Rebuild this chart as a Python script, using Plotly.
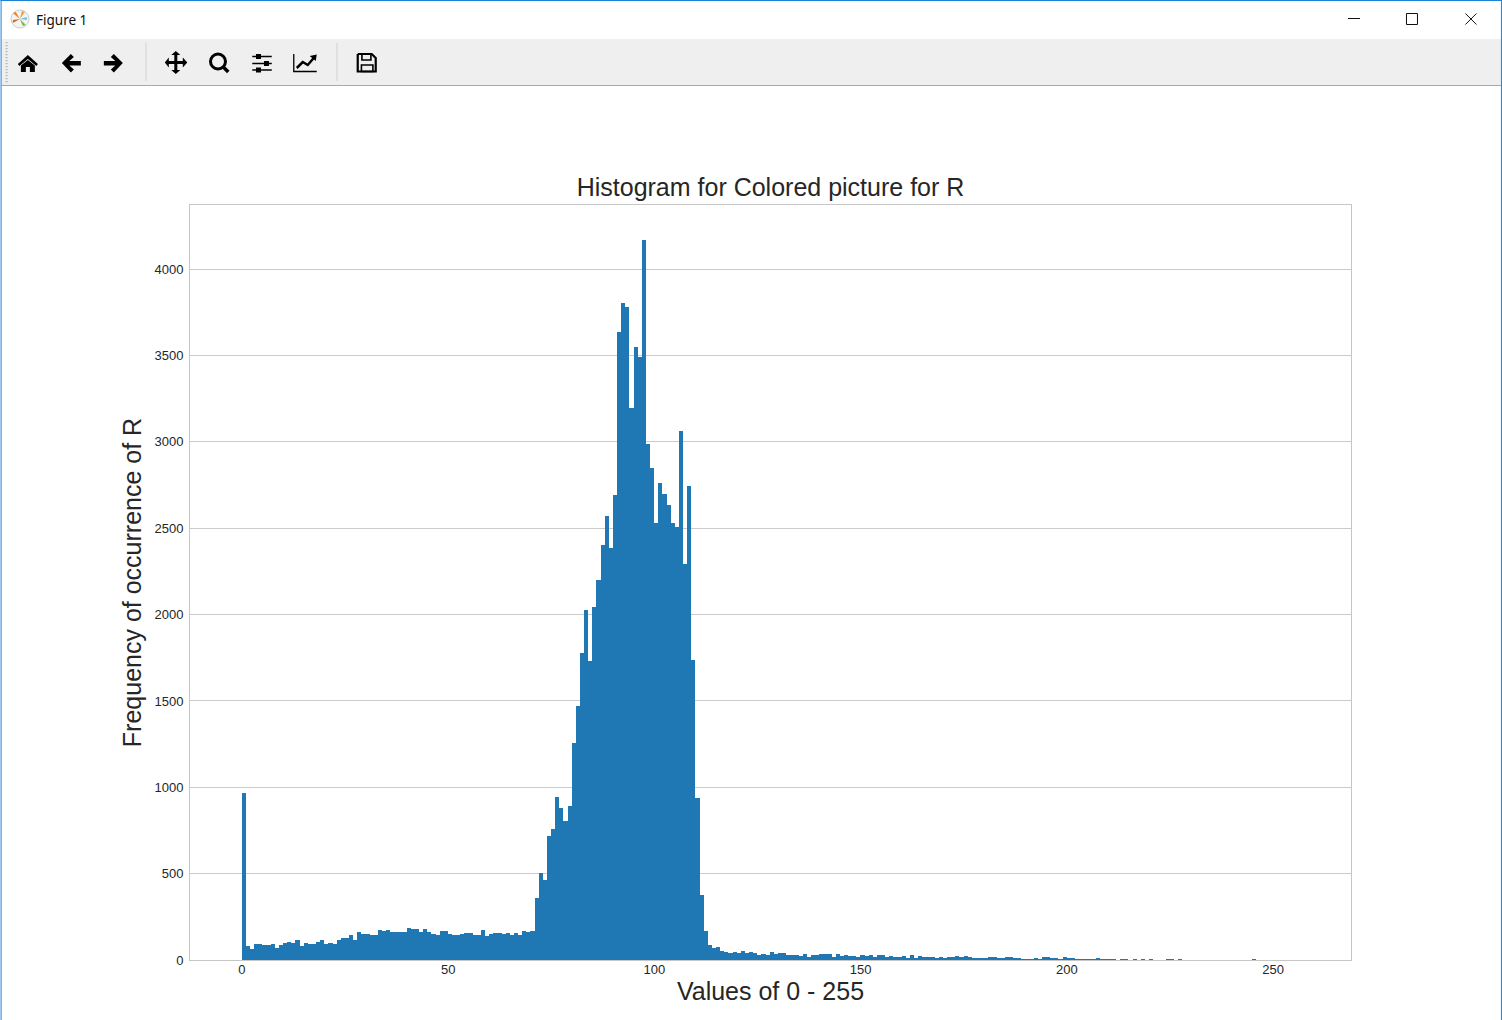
import plotly.graph_objects as go

intensity_levels = list(range(256))
counts = [
    965, 81, 64, 93, 93, 87, 87, 93, 69, 87, 98, 104, 98, 116, 81, 98, 93, 93, 104, 116,
    93, 98, 93, 116, 127, 127, 145, 116, 162, 150, 150, 145, 145, 174, 168, 174, 162, 162, 162, 162,
    185, 180, 180, 162, 180, 162, 150, 145, 168, 168, 150, 145, 145, 150, 156, 156, 145, 145, 174, 139,
    150, 156, 156, 150, 156, 145, 156, 145, 168, 162, 168, 359, 504, 463, 718, 758, 944, 880, 805, 891,
    1256, 1470, 1777, 2026, 1731, 2043, 2200, 2402, 2570, 2385, 2692, 3635, 3803, 3780, 3195, 3548, 3491, 4168, 2987, 2848,
    2530, 2761, 2698, 2634, 2530, 2507, 3062, 2292, 2744, 1737, 938, 376, 168, 87, 69, 75, 52, 46, 40, 46,
    40, 52, 40, 46, 40, 29, 35, 29, 46, 35, 40, 40, 29, 29, 29, 23, 35, 17, 29, 29,
    35, 35, 35, 17, 35, 23, 29, 23, 23, 17, 29, 23, 29, 17, 29, 29, 17, 23, 17, 17,
    23, 12, 29, 12, 23, 17, 17, 17, 12, 17, 12, 17, 17, 23, 17, 23, 17, 12, 12, 12,
    12, 17, 17, 12, 10, 15, 15, 10, 10, 3, 2, 2, 10, 3, 15, 15, 8, 10, 3, 15,
    10, 10, 3, 3, 2, 2, 3, 10, 3, 2, 2, 3, 0, 3, 3, 0, 3, 0, 3, 0,
    3, 0, 0, 0, 3, 3, 0, 3, 0, 0, 0, 0, 0, 0, 0, 0, 0, 0, 0, 0,
    0, 0, 0, 0, 0, 3, 0, 0, 0, 0, 0, 0, 0, 0, 0, 0,
]
counts = (counts + [0] * 256)[:256]
x_ticks = [0, 50, 100, 150, 200, 250]
y_ticks = [0, 500, 1000, 1500, 2000, 2500, 3000, 3500, 4000]
chart_title = "Histogram for Colored picture for R"
x_title = "Values of 0 - 255"
y_title = "Frequency of occurrence of R"
window_title = "Figure 1"

W, H = 1502, 1020
L, R, T, B = 189.5, 1351.0, 205.0, 960.0
DX = -0.7  # toolbar icon nudge

def X(px):
    return (px - L) / (R - L)

def Y(py):
    return (B - py) / (B - T)

def poly(points, fill="#000000"):
    d = "M " + " L ".join(f"{X(a + DX):.5f},{Y(b):.5f}" for a, b in points) + " Z"
    return dict(type="path", xref="paper", yref="paper", path=d, fillcolor=fill, line=dict(width=0), layer="above")

def pline(points, color="#000000", width=1.0, dx=DX):
    d = "M " + " L ".join(f"{X(a + dx):.5f},{Y(b):.5f}" for a, b in points)
    return dict(type="path", xref="paper", yref="paper", path=d, line=dict(color=color, width=width), layer="above")

def rect(x0, y0, x1, y1, fill=None, color=None, width=0):
    return dict(type="rect", xref="paper", yref="paper", x0=X(x0), x1=X(x1), y0=Y(y0), y1=Y(y1),
                fillcolor=fill if fill else "rgba(0,0,0,0)",
                line=dict(color=color if color else "rgba(0,0,0,0)", width=width), layer="above")

def circ(cx, cy, r, fill=None, color=None, width=0):
    return dict(type="circle", xref="paper", yref="paper", x0=X(cx - r), x1=X(cx + r), y0=Y(cy - r), y1=Y(cy + r),
                fillcolor=fill if fill else "rgba(0,0,0,0)",
                line=dict(color=color if color else "rgba(0,0,0,0)", width=width), layer="above")

shapes = [
    rect(1, 39, 1501, 85, fill="#efefef"),
    rect(1, 85, 1501, 86, fill="#a9a9a9"),
    rect(0, 0, W, 1, fill="#1883d7"),
    rect(0, 0, 1, H, fill="#1883d7"),
    rect(W - 1, 0, W, H, fill="#1883d7"),
    rect(145, 43, 146, 81, fill="#d2d2d2"),
    rect(336, 43, 337, 81, fill="#d2d2d2"),
    # window buttons
    rect(1348, 18, 1360, 19, fill="#111111"),
    rect(1406.5, 13.5, 1417.5, 24.5, color="#111111", width=1),
    pline([(1465.5, 13.5), (1476.5, 24.5)], "#111111", 1, dx=0),
    pline([(1476.5, 13.5), (1465.5, 24.5)], "#111111", 1, dx=0),
    # window icon
    circ(19.5, 19, 9, fill="#f4f4f4", color="#cccccc", width=1),
    poly([(20, 19), (13, 13), (16, 12)], "#f08020"),
    poly([(20, 19), (22, 11), (25, 12)], "#f0a040"),
    poly([(20, 19), (13, 20), (13, 23)], "#e86020"),
    poly([(20, 19), (26, 25), (23, 26)], "#80b840"),
    poly([(20, 19), (27, 17), (27, 20)], "#70c0e0"),
    # home
    poly([(18, 64), (28, 55), (38, 64), (36.5, 66), (28, 59), (19.5, 66)]),
    poly([(21, 65.5), (28, 60), (35, 65.5), (35, 72), (30, 72), (30, 67), (26, 67), (26, 72), (21, 72)]),
    # back / forward
    poly([(62, 63), (71, 54), (74, 57), (69.5, 61), (81, 61), (81, 65.5), (69.5, 65.5), (74, 69.5), (71, 72.5)]),
    poly([(123, 63), (114, 54), (111, 57), (115.5, 61), (104, 61), (104, 65.5), (115.5, 65.5), (111, 69.5), (114, 72.5)]),
    # move
    poly([(174.5, 55), (174.5, 61), (169, 61), (169, 57.5), (165, 62.5), (169, 67.5), (169, 64), (174.5, 64),
          (174.5, 70), (171.5, 70), (176, 74), (180.5, 70), (177.5, 70), (177.5, 64), (183, 64), (183, 67.5),
          (187.5, 62.5), (183, 57.5), (183, 61), (177.5, 61), (177.5, 55), (180.5, 55), (176, 51), (171.5, 55)]),
    # zoom
    circ(217.5, 61.5, 7.5, color="#000000", width=3),
    pline([(223.5, 67), (228.5, 72)], "#000000", 3.5),
    # sliders
    pline([(252.5, 56.5), (272, 56.5)], "#000000", 1.5),
    pline([(252.5, 63.5), (272, 63.5)], "#000000", 1.5),
    pline([(252.5, 70), (272, 70)], "#000000", 1.5),
    rect(255.5, 54, 260.5, 59, fill="#000000"),
    rect(263.5, 61, 268.5, 66, fill="#000000"),
    rect(255.5, 67.5, 260.5, 72.5, fill="#000000"),
    # chart
    pline([(294, 54), (294, 71.5), (317, 71.5)], "#000000", 1.3),
    pline([(297, 68), (303, 62), (308, 65), (314, 58)], "#000000", 2.5),
    poly([(310, 56), (317, 54.5), (316, 61)]),
    # save
    pline([(358, 54), (372, 54), (376, 58), (376, 71.5), (358, 71.5), (358, 54)], "#000000", 2.2),
    rect(361.5, 54, 370.5, 60, color="#000000", width=1.6),
    rect(361, 65, 372.5, 71.5, color="#000000", width=1.6),
]
for gy in range(42, 82, 3):
    shapes.append(rect(5, gy, 7, gy + 1.2, fill="#b5b5b5"))

fig = go.Figure(go.Bar(
    x=intensity_levels, y=counts, offset=-0.05, width=1.0,
    marker=dict(color="#1f77b4", line=dict(width=0)), hoverinfo="skip",
))

fig.update_layout(
    width=W, height=H, autosize=False,
    paper_bgcolor="white", plot_bgcolor="white",
    margin=dict(l=L, r=W - R, t=T, b=H - B, pad=0),
    showlegend=False,
    bargap=0,
    font=dict(family="Liberation Sans, Arial, sans-serif", color="#262626"),
    title=dict(text=chart_title, font=dict(size=25, color="#262626", family="Liberation Sans"),
               xref="paper", x=0.5, xanchor="center", yref="container", y=1 - 196 / H, yanchor="bottom"),
    xaxis=dict(range=[-12.6, 268.9], tickvals=x_ticks, showgrid=False, zeroline=False,
               showline=True, linecolor="#c6c6c6", linewidth=1, mirror=True, ticks="",
               tickfont=dict(size=13, color="#262626"), ticklen=0, ticklabelstandoff=-3,
               title=dict(text=x_title, font=dict(size=25, color="#262626"), standoff=6)),
    yaxis=dict(range=[0, 4372], tickvals=y_ticks, showgrid=True, gridcolor="#cbcbcb", gridwidth=1.3, zeroline=False,
               showline=True, linecolor="#c6c6c6", linewidth=1, mirror=True, ticks="",
               tickfont=dict(size=13, color="#262626"), ticklabelstandoff=3,
               title=dict(text=y_title, font=dict(size=25, color="#262626"), standoff=5)),
    shapes=shapes,
    annotations=[dict(text=window_title, xref="paper", yref="paper", x=X(35), y=Y(19.5), xanchor="left",
                      xshift=-2, yanchor="middle", showarrow=False,
                      font=dict(family="Noto Sans", size=13.5, color="#111111"))],
)

fig.write_html("out.html", config=dict(displayModeBar=False),
               post_script="document.body.style.margin='0';document.documentElement.style.overflow='hidden';")
